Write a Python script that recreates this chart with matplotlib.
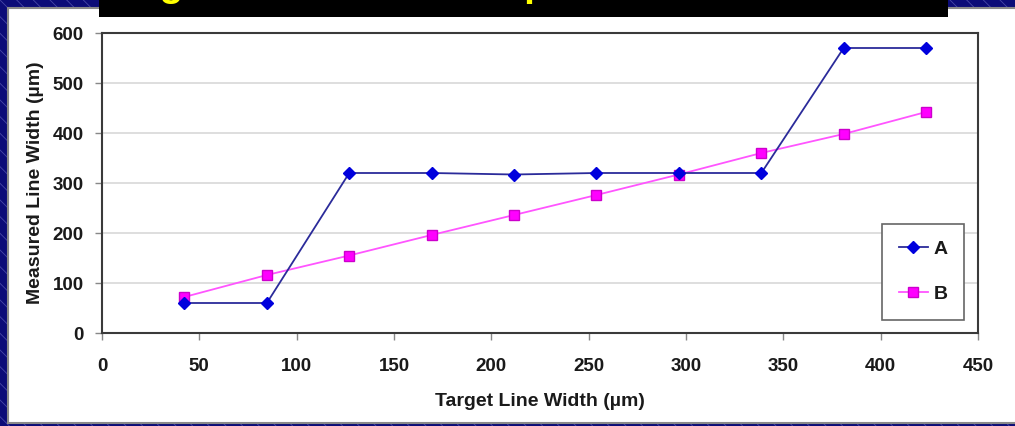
import matplotlib
matplotlib.use('Agg')
import numpy as np
import matplotlib.pyplot as plt
from matplotlib.patches import Rectangle

# data
target = [42.3, 84.7, 127, 169.3, 211.7, 254, 296.3, 338.7, 381, 423.3]
series_a = [60, 60, 320, 320, 317, 320, 320, 320, 570, 570]
series_b = [72, 116, 155, 196, 236, 276, 317, 360, 398, 442]
labels = ['A', 'B']
xticks = [0, 50, 100, 150, 200, 250, 300, 350, 400, 450]
yticks = [0, 100, 200, 300, 400, 500, 600]

W, H = 1015, 426
plt.rcParams['font.family'] = ['Liberation Sans', 'DejaVu Sans']
plt.rcParams['font.weight'] = 'bold'
plt.rcParams['hatch.linewidth'] = 0.6

fig = plt.figure(figsize=(W / 100, H / 100), dpi=100)
fig.patch.set_facecolor('#0c0c78')

def px(x0, y0, x1, y1):
	# pixel box (top-left origin) -> figure fraction rect
	return (x0 / W, 1 - y1 / H, (x1 - x0) / W, (y1 - y0) / H)

# slide background with faint diagonal lines
bx, by, bw, bh = px(0, 0, W, H)
fig.patches.append(Rectangle((bx, by), bw, bh, transform=fig.transFigure,
	facecolor='#0c0c78', edgecolor='#4848a8', hatch='\\\\', lw=0, zorder=-5))

# white chart panel
bx, by, bw, bh = px(8, 8, W + 10, 423)
fig.patches.append(Rectangle((bx, by), bw, bh, transform=fig.transFigure,
	facecolor='white', edgecolor='#8a8a8a', lw=1.5, zorder=-4))

# black title bar, the slide title is cut off by the top edge (as in the source)
bx, by, bw, bh = px(99, -2, 948, 17)
fig.patches.append(Rectangle((bx, by), bw, bh, transform=fig.transFigure,
	facecolor='black', edgecolor='none', zorder=5))
fig.text(102 / W, 1 + 4 / H, 'Target Line Width Comparison', color='#ffff00',
	fontsize=28, fontweight='bold', ha='left', va='baseline', zorder=6)

ax = fig.add_axes(px(102, 33, 978, 333))
ax.plot(target, series_a, color='#2b2b9a', lw=1.3, marker='D', ms=6.5,
	mfc='#0000dd', mec='#0000dd', label=labels[0], zorder=4)
ax.plot(target, series_b, color='#ff55ff', lw=1.3, marker='s', ms=7.5,
	mfc='#ff00ff', mec='#cc00cc', label=labels[1], zorder=3)

ax.set_xlim(0, 450)
ax.set_ylim(0, 600)
ax.set_xticks(xticks)
ax.set_yticks(yticks)
ax.yaxis.grid(True, color='#d8d8d8', lw=1.2)
ax.set_axisbelow(True)
for s in ax.spines.values():
	s.set_color('#3a3a3a')
	s.set_linewidth(1.5)
ax.tick_params(axis='both', direction='out', length=5, width=1, color='#888888',
	labelsize=13.5, labelcolor='#1a1a1a', pad=8)
ax.tick_params(axis='x', pad=13)
for t in ax.get_xticklabels() + ax.get_yticklabels():
	t.set_fontweight('bold')

ax.set_xlabel('Target Line Width (\u00b5m)', fontsize=14, fontweight='bold',
	color='#1a1a1a', labelpad=13)
ax.set_ylabel('Measured Line Width (\u00b5m)', fontsize=14, fontweight='bold',
	color='#1a1a1a', labelpad=6)

leg = ax.legend(loc='upper left', bbox_to_anchor=(882 / W, 1 - 224 / H),
	bbox_transform=fig.transFigure, fontsize=14, frameon=True, fancybox=False,
	edgecolor='#666666', framealpha=1, borderpad=0.85, labelspacing=1.4,
	handlelength=1.5, handletextpad=0.3, borderaxespad=0)
leg.get_frame().set_linewidth(1.2)
for t in leg.get_texts():
	t.set_fontweight('bold')
	t.set_color('#1a1a1a')

fig.savefig('out.png', dpi=100, facecolor=fig.get_facecolor())
